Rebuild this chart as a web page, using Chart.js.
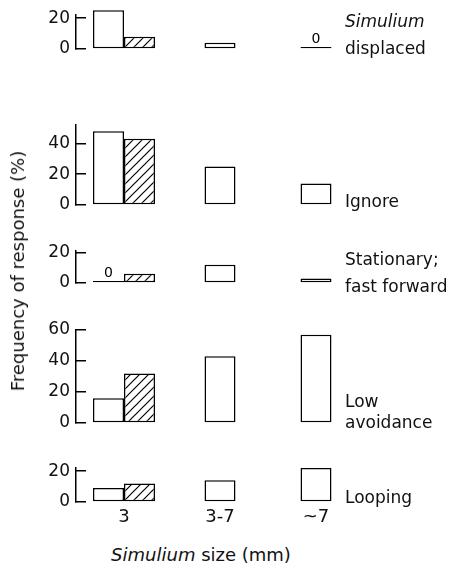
<!DOCTYPE html>
<html>
<head>
<meta charset="utf-8">
<script src="https://cdn.jsdelivr.net/npm/chart.js@4/dist/chart.umd.min.js"></script>
<style>
  html, body { margin: 0; padding: 0; background: #fff; }
  #fig { position: relative; width: 452px; height: 572px; overflow: hidden; font-family: "DejaVu Sans", sans-serif; color: #111; }
  #fig canvas { position: absolute; left: 0; }
  .lbl { position: absolute; left: 345px; font-size: 17px; line-height: 20px; white-space: nowrap; }
  .ytitle { position: absolute; left: 18px; top: 271px; font-size: 18px; line-height: 20px; white-space: nowrap;
            transform: translate(-50%, -50%) rotate(-90deg); }
  .xtitle { position: absolute; left: 201px; top: 555px; font-size: 18px; line-height: 20px; white-space: nowrap;
            transform: translate(-50%, -50%); }
</style>
</head>
<body>
<div id="fig"></div>
<script>
// ---- data (frequency of response, %) ----
const sizeClasses = ['3', '3-7', '~7'];

const displacedOpen = [25, 4, 0];
const displacedHatched = [8, null, null];
const ignoreOpen = [48, 25, 14];
const ignoreHatched = [43, null, null];
const stationaryOpen = [0, 12, 3];
const stationaryHatched = [6, null, null];
const avoidanceOpen = [16, 43, 57];
const avoidanceHatched = [32, null, null];
const loopingOpen = [9, 14, 22];
const loopingHatched = [12, null, null];

const displacedTicks = [0, 20];
const ignoreTicks = [0, 20, 40];
const stationaryTicks = [0, 20];
const avoidanceTicks = [0, 20, 40, 60];
const loopingTicks = [0, 20];

const displacedLabel = ['Simulium', 'displaced'];
const ignoreLabel = ['Ignore'];
const stationaryLabel = ['Stationary;', 'fast forward'];
const avoidanceLabel = ['Low', 'avoidance'];
const loopingLabel = ['Looping'];

const italicWords = ['Simulium'];

// ---- layout (pixels) ----
const PAD_T = 14, PAD_B = 8, AXIS_W = 76, PAD_R = 88, X_AXIS_H = 30;
const panels = [
  { open: displacedOpen, hatched: displacedHatched, ticks: displacedTicks, max: 22, label: displacedLabel, top: 15, h: 34, labelY: 21, gap: 27 },
  { open: ignoreOpen, hatched: ignoreHatched, ticks: ignoreTicks, max: 52, label: ignoreLabel, top: 125, h: 80, labelY: 201, gap: 0 },
  { open: stationaryOpen, hatched: stationaryHatched, ticks: stationaryTicks, max: 21, label: stationaryLabel, top: 251, h: 32, labelY: 259, gap: 27 },
  { open: avoidanceOpen, hatched: avoidanceHatched, ticks: avoidanceTicks, max: 60, label: avoidanceLabel, top: 330, h: 93, labelY: 401, gap: 21 },
  { open: loopingOpen, hatched: loopingHatched, ticks: loopingTicks, max: 22, label: loopingLabel, top: 468, h: 34, labelY: 497, gap: 0 }
];

const fig = document.getElementById('fig');
const FONT = 'DejaVu Sans';

function makeHatch(ctx) {
  const c = document.createElement('canvas');
  c.width = 9; c.height = 9;
  const g = c.getContext('2d');
  g.fillStyle = '#fff';
  g.fillRect(0, 0, 9, 9);
  g.strokeStyle = '#000';
  g.lineWidth = 1.2;
  g.beginPath();
  g.moveTo(0, 9); g.lineTo(9, 0);
  g.moveTo(-1, 1); g.lineTo(1, -1);
  g.moveTo(8, 10); g.lineTo(10, 8);
  g.stroke();
  return ctx.createPattern(c, 'repeat');
}

// writes a small "0" above bars whose value is zero
const zeroMarks = {
  id: 'zeroMarks',
  afterDatasetsDraw(chart) {
    const ctx = chart.ctx;
    ctx.save();
    ctx.font = '14px "' + FONT + '"';
    ctx.fillStyle = '#000';
    ctx.textAlign = 'center';
    ctx.textBaseline = 'bottom';
    chart.data.datasets.forEach((ds, i) => {
      chart.getDatasetMeta(i).data.forEach((bar, j) => {
        if (ds.data[j] === 0) ctx.fillText('0', bar.x, bar.y - 1);
      });
    });
    ctx.restore();
  }
};

panels.forEach((p, idx) => {
  const isLast = idx === panels.length - 1;
  const canvas = document.createElement('canvas');
  const height = PAD_T + p.h + PAD_B + (isLast ? X_AXIS_H : 0);
  canvas.width = 452;
  canvas.height = height;
  canvas.style.top = (p.top - PAD_T) + 'px';
  fig.appendChild(canvas);
  const ctx = canvas.getContext('2d');

  const barStyle = {
    borderColor: '#000',
    borderWidth: 1.5,
    borderSkipped: false,
    inflateAmount: 0,
    barThickness: 31,
    skipNull: true,
    minBarLength: 2,
    clip: false
  };

  new Chart(ctx, {
    type: 'bar',
    data: {
      labels: sizeClasses,
      datasets: [
        Object.assign({ data: p.open, backgroundColor: '#fff' }, barStyle),
        Object.assign({ data: p.hatched, backgroundColor: makeHatch(ctx) }, barStyle)
      ]
    },
    options: {
      responsive: false,
      animation: false,
      devicePixelRatio: 1,
      layout: { padding: { top: PAD_T, bottom: PAD_B, left: 0, right: PAD_R } },
      plugins: { legend: { display: false }, tooltip: { enabled: false } },
      scales: {
        x: {
          display: isLast,
          grid: { display: false, drawTicks: false },
          border: { display: false },
          ticks: { color: '#111', font: { family: FONT, size: 18 }, padding: 5 },
          afterFit: s => {
            s.height = isLast ? X_AXIS_H : 0;
            s.paddingLeft = 0; s.paddingRight = 0;
          }
        },
        y: {
          min: 0,
          max: p.max,
          afterFit: s => {
            s.width = AXIS_W;
            s.paddingTop = 0; s.paddingBottom = 0;
          },
          afterBuildTicks: s => { s.ticks = p.ticks.map(v => ({ value: v })); },
          grid: { drawOnChartArea: false, drawTicks: true, tickLength: -10, color: '#000', lineWidth: 1.5 },
          border: { display: true, color: '#000', width: 1.5 },
          ticks: { color: '#111', font: { family: FONT, size: 17 }, padding: 16 }
        }
      }
    },
    plugins: [zeroMarks]
  });

  // response label on the right
  p.label.forEach((line, k) => {
    const d = document.createElement('div');
    d.className = 'lbl';
    d.textContent = line;
    if (italicWords.includes(line)) d.style.fontStyle = 'italic';
    d.style.top = (p.labelY + k * p.gap - 10) + 'px';
    fig.appendChild(d);
  });
});

const yt = document.createElement('div');
yt.className = 'ytitle';
yt.textContent = 'Frequency of response (%)';
fig.appendChild(yt);

const xt = document.createElement('div');
xt.className = 'xtitle';
xt.innerHTML = '<i>Simulium</i> size (mm)';
fig.appendChild(xt);
</script>
</body>
</html>
